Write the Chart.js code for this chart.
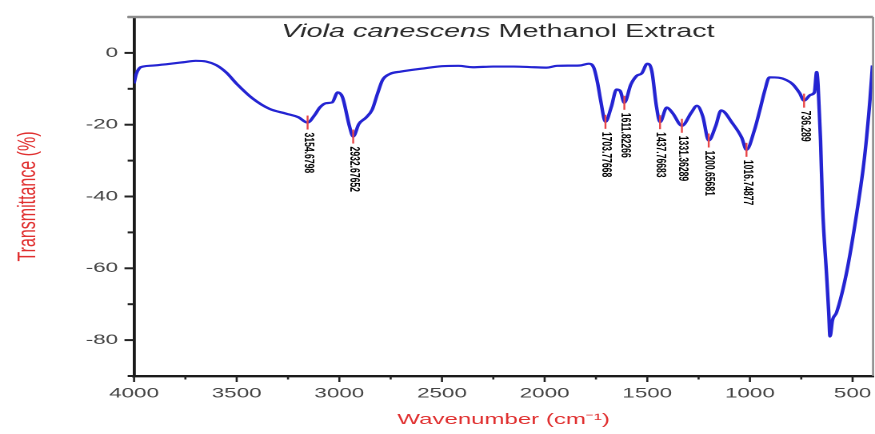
<!DOCTYPE html>
<html>
<head>
<meta charset="utf-8">
<script src="https://cdn.jsdelivr.net/npm/chart.js@4.4.1/dist/chart.umd.min.js"></script>
<style>
  html, body { margin: 0; padding: 0; background: #ffffff; overflow: hidden; }
  #wrap { width: 875px; height: 434px; overflow: hidden; }
  /* the spectrum is drawn on a narrower canvas and widened horizontally */
  #ftir { display: block; transform: scaleX(1.59963); transform-origin: 0 0; }
</style>
</head>
<body>
<div id="wrap"><canvas id="ftir" width="547" height="434" style="width:547px;height:434px"></canvas></div>
<script>
// FTIR spectrum, wavenumber (cm-1) against transmittance (%)
const wavenumbers = [
  4000, 3990, 3975, 3955, 3900, 3820, 3760, 3700, 3650, 3600,
  3550, 3500, 3420, 3340, 3260, 3200, 3154.6798, 3120, 3095, 3065,
  3035, 3008, 2985, 2950, 2932.67652, 2905, 2870, 2840, 2815, 2790,
  2755, 2700, 2600, 2500, 2420, 2350, 2250, 2150, 2050, 1990,
  1940, 1830, 1785, 1760, 1742, 1727, 1703.77668, 1675, 1650, 1632,
  1611.82266, 1580, 1552, 1527, 1500, 1478, 1455, 1437.76683, 1405, 1376,
  1331.36289, 1285, 1258, 1230, 1200.65681, 1167, 1140, 1085, 1040, 1016.74877,
  978, 952, 928, 905, 860, 821, 792, 758, 736.289, 705,
  686, 675, 668, 656, 646, 627, 616, 610, 598, 578,
  530, 480, 442, 415, 403
];
const transmittance = [
  -8.5, -6.0, -4.3, -3.8, -3.5, -3.0, -2.6, -2.2, -2.4, -3.4,
  -5.5, -8.6, -12.8, -15.6, -16.9, -17.9, -19.4, -17.3, -15.2, -14.0,
  -13.8, -11.0, -12.3, -20.6, -23.3, -19.8, -18.0, -15.8, -11.5, -7.6,
  -5.9, -5.2, -4.4, -3.7, -3.6, -4.0, -3.8, -3.8, -4.0, -4.1,
  -3.6, -3.5, -3.0, -4.2, -8.4, -13.3, -19.2, -15.0, -10.2, -10.6,
  -13.9, -8.8, -6.4, -5.7, -3.0, -5.0, -15.0, -19.3, -15.2, -16.8,
  -20.3, -16.6, -14.7, -17.6, -24.4, -20.4, -16.0, -19.6, -23.6, -27.0,
  -21.5, -16.0, -10.6, -6.8, -6.9, -7.6, -8.7, -11.2, -13.3, -11.7,
  -11.0, -5.3, -9.0, -24.4, -43.0, -61.5, -72.5, -79.0, -74.5, -72.3,
  -61.4, -44.7, -29.2, -13.0, -3.5
];
// absorption bands that carry a value label
const peakWavenumbers = [3154.6798, 2932.67652, 1703.77668, 1611.82266, 1437.76683,
                         1331.36289, 1200.65681, 1016.74877, 736.289];

const xTicks = [4000, 3750, 3500, 3250, 3000, 2750, 2500, 2250, 2000, 1750, 1500, 1250, 1000, 750, 500];
const xTickLabels = [4000, 3500, 3000, 2500, 2000, 1500, 1000, 500];
const yTicks = [10, 0, -10, -20, -30, -40, -50, -60, -70, -80, -90];
const yTickLabels = [0, -20, -40, -60, -80];

const titleItalic = 'Viola canescens';
const titleRest = ' Methanol Extract';

const tickFont = { family: "'Liberation Sans', Arial, sans-serif", size: 14 };
const axisRed = 'rgb(224,48,48)';

// short marks for unlabelled ticks, longer ones for labelled ticks
const tickMarks = {
  id: 'tickMarks',
  afterDraw(chart) {
    const { ctx, scales: { x, y } } = chart;
    ctx.save();
    ctx.strokeStyle = '#222';
    ctx.lineWidth = 1.3;
    xTicks.forEach(v => {
      const px = x.getPixelForValue(v);
      const len = xTickLabels.includes(v) ? 6 : 3.5;
      ctx.beginPath();
      ctx.moveTo(px, x.top);
      ctx.lineTo(px, x.top + len);
      ctx.stroke();
    });
    ctx.lineWidth = 2;
    yTicks.forEach(v => {
      const py = y.getPixelForValue(v);
      const len = yTickLabels.includes(v) ? 6 : 4;
      ctx.beginPath();
      ctx.moveTo(y.right, py);
      ctx.lineTo(y.right - len, py);
      ctx.stroke();
    });
    ctx.restore();
  }
};

// grey frame on the top and right of the plot, plus the heading
const frameAndTitle = {
  id: 'frameAndTitle',
  afterDraw(chart) {
    const { ctx, chartArea: a } = chart;
    ctx.save();
    ctx.strokeStyle = '#8c8c8c';
    ctx.lineWidth = 2.4;
    ctx.beginPath();
    ctx.moveTo(a.left - 4, a.top);
    ctx.lineTo(a.right, a.top);
    ctx.stroke();
    ctx.lineWidth = 1.3;
    ctx.beginPath();
    ctx.moveTo(a.right, a.top);
    ctx.lineTo(a.right, a.bottom);
    ctx.stroke();

    const fam = "'Liberation Sans', Arial, sans-serif";
    ctx.fillStyle = '#2a2a2a';
    ctx.textBaseline = 'middle';
    ctx.font = 'italic 18px ' + fam;
    const w1 = ctx.measureText(titleItalic).width;
    ctx.font = '18px ' + fam;
    const w2 = ctx.measureText(titleRest).width;
    const cx = 311.3;
    const start = cx - (w1 + w2) / 2;
    ctx.textAlign = 'left';
    ctx.font = 'italic 18px ' + fam;
    ctx.fillText(titleItalic, start, 32);
    ctx.font = '18px ' + fam;
    ctx.fillText(titleRest, start + w1, 32);
    ctx.restore();
  }
};

// red marker and rotated wavenumber label at each band minimum
const peakLabels = {
  id: 'peakLabels',
  afterDatasetsDraw(chart) {
    const { ctx, scales: { x, y } } = chart;
    ctx.save();
    peakWavenumbers.forEach(p => {
      const i = wavenumbers.indexOf(p);
      const px = x.getPixelForValue(p);
      const py = y.getPixelForValue(transmittance[i]);
      ctx.strokeStyle = 'rgb(232,70,70)';
      ctx.lineWidth = 1.2;
      ctx.beginPath();
      ctx.moveTo(px, py - 7);
      ctx.lineTo(px, py + 7);
      ctx.stroke();
      ctx.save();
      ctx.translate(px + 0.5, py + 10);
      ctx.rotate(Math.PI / 2);
      ctx.fillStyle = '#000000';
      ctx.font = "bold 8.6px 'Liberation Sans', Arial, sans-serif";
      ctx.textAlign = 'left';
      ctx.textBaseline = 'middle';
      ctx.fillText(String(p), 0, 0);
      ctx.restore();
    });
    ctx.restore();
  }
};

new Chart(document.getElementById('ftir'), {
  type: 'line',
  data: {
    datasets: [{
      data: wavenumbers.map((w, i) => ({ x: w, y: transmittance[i] })),
      borderColor: '#2424d2',
      borderWidth: 2.2,
      pointRadius: 0,
      fill: false,
      cubicInterpolationMode: 'monotone'
    }]
  },
  options: {
    responsive: false,
    animation: false,
    devicePixelRatio: 2,
    layout: { padding: { left: 0, right: 1.2, top: 17, bottom: 0 } },
    plugins: { legend: { display: false }, tooltip: { enabled: false } },
    scales: {
      x: {
        type: 'linear',
        reverse: true,
        min: 400,
        max: 4000,
        afterBuildTicks: s => { s.ticks = xTicks.map(v => ({ value: v })); },
        afterFit: s => { s.height = 58; s.paddingLeft = 0; s.paddingRight = 0; },
        grid: { display: false, drawTicks: true, tickLength: 6 },
        border: { display: true, color: '#1a1a1a', width: 2.4 },
        ticks: {
          autoSkip: false,
          maxRotation: 0,
          padding: 3,
          color: '#444',
          font: tickFont,
          callback: v => (xTickLabels.includes(v) ? String(v) : '')
        },
        title: {
          display: true,
          text: 'Wavenumber (cm\u207B\u00B9)',
          color: axisRed,
          font: { family: "'Liberation Sans', Arial, sans-serif", size: 15 },
          padding: { top: 0, bottom: 5 }
        }
      },
      y: {
        min: -90,
        max: 10,
        afterBuildTicks: s => { s.ticks = yTicks.map(v => ({ value: v })); },
        afterFit: s => { s.width = 83.8; },
        grid: { display: false, drawTicks: true, tickLength: 6 },
        border: { display: true, color: '#1a1a1a', width: 1.9 },
        ticks: {
          autoSkip: false,
          padding: 4,
          color: '#444',
          font: tickFont,
          callback: v => (yTickLabels.includes(v) ? String(v) : '')
        },
        title: {
          display: true,
          text: 'Transmittance (%)',
          color: axisRed,
          font: { family: "'Liberation Sans', Arial, sans-serif", size: 16 },
          padding: { top: 8, bottom: 0 }
        }
      }
    }
  },
  plugins: [peakLabels, tickMarks, frameAndTitle]
});
</script>
</body>
</html>
